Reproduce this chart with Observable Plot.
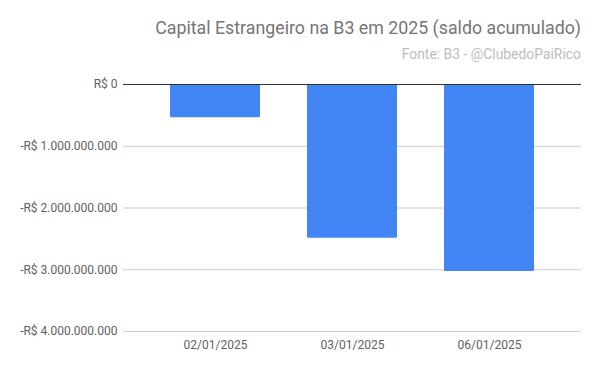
<!DOCTYPE html>
<html>
<head>
<meta charset="utf-8">
<script src="https://cdn.jsdelivr.net/npm/d3@7"></script>
<script src="https://cdn.jsdelivr.net/npm/@observablehq/plot@0.6"></script>
<style>
  body { margin: 0; background: #fff; font-family: Roboto, sans-serif; }
  #wrap { width: 600px; position: relative; }
  #title { position: absolute; right: 19px; top: 17px; font-size: 17.8px; color: #757575; white-space: nowrap; }
  #subtitle { position: absolute; right: 19px; top: 46px; font-size: 13.9px; color: #bdbdbd; white-space: nowrap; }
  #head { height: 70px; position: relative; }
</style>
</head>
<body>
<div id="wrap">
  <div id="head">
    <div id="title">Capital Estrangeiro na B3 em 2025 (saldo acumulado)</div>
    <div id="subtitle">Fonte: B3 - @ClubedoPaiRico</div>
  </div>
  <div id="chart"></div>
</div>
<script>
const dates = ["02/01/2025", "03/01/2025", "06/01/2025"];
const saldo = [-540000000, -2490000000, -3030000000];
const yTicks = [0, -1000000000, -2000000000, -3000000000, -4000000000];

const data = dates.map((d, i) => ({date: d, value: saldo[i]}));
const fmt = v => (v < 0 ? "-" : "") + "R$ " + d3.format(",")(Math.abs(v)).replace(/,/g, ".");

const chart = Plot.plot({
  width: 600,
  height: 301,
  marginLeft: 123,
  marginRight: 19,
  marginTop: 14,
  marginBottom: 40,
  style: {fontFamily: "Roboto, sans-serif", fontSize: "12px", color: "#616161", background: "#fff"},
  x: {domain: dates, padding: 0.34, label: null, tickSize: 0, tickPadding: 9},
  y: {domain: [-4000000000, 0], ticks: yTicks, tickFormat: fmt, label: null, tickSize: 0, tickPadding: 6},
  marks: [
    Plot.gridY(yTicks, {stroke: "#cccccc", strokeOpacity: 1}),
    Plot.barY(data, {x: "date", y: "value", fill: "#4285F4", rx: 1.5}),
    Plot.ruleY([0], {stroke: "#333333"}),
    Plot.axisX({tickSize: 0, tickPadding: 9, fill: "#616161"}),
    Plot.axisY(yTicks, {tickSize: 0, tickPadding: 6, tickFormat: fmt, fill: "#616161"})
  ]
});
document.getElementById("chart").appendChild(chart);
</script>
</body>
</html>
